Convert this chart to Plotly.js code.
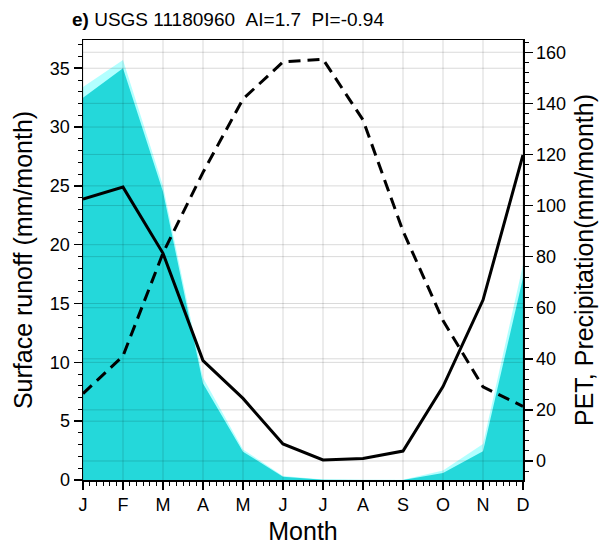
<!DOCTYPE html>
<html>
<head>
<meta charset="utf-8">
<script src="https://cdn.plot.ly/plotly-3.0.1.min.js"></script>
<style>html,body{margin:0;padding:0;background:#fff;}#chart{width:605px;height:545px;}</style>
</head>
<body>
<div id="chart"></div>
<script>
// ---- data ----
const months = [1,2,3,4,5,6,7,8,9,10,11,12];
const monthLabels = ['J','F','M','A','M','J','J','A','S','O','N','D'];
const runoffUpper = [33.4, 35.7, 25.0, 8.7, 2.6, 0.35, 0.05, 0, 0.02, 0.8, 3.05, 18.3];
const runoff      = [32.5, 35.0, 24.5, 8.2, 2.4, 0.28, 0.03, 0, 0, 0.6, 2.45, 17.2];
const precip      = [102.5, 107.2, 81.3, 39.3, 24.5, 6.7, 0.4, 1.0, 3.9, 29.1, 63.0, 119.8];
const pet         = [26.4, 41.1, 81.4, 113.0, 141.7, 156.2, 157.3, 133.5, 90.0, 55.0, 29.0, 21.4];
const leftTicks  = [0,5,10,15,20,25,30,35];
const rightTicks = [0,20,40,60,80,100,120,140,160];

const FONT = 'Liberation Sans, Arial, Helvetica, sans-serif';

const traces = [
  {x: months, y: runoffUpper, type:'scatter', mode:'lines', fill:'tozeroy',
   fillcolor:'rgba(0,255,255,0.3)', line:{width:0, color:'rgba(0,0,0,0)'}, yaxis:'y', hoverinfo:'skip'},
  {x: months, y: runoff, type:'scatter', mode:'lines', fill:'tozeroy',
   fillcolor:'rgba(0,206,209,0.8)', line:{width:0, color:'rgba(0,0,0,0)'}, yaxis:'y', hoverinfo:'skip'},
  {x: months, y: pet, type:'scatter', mode:'lines', yaxis:'y2',
   line:{color:'#000', width:3, dash:'12px,7px'}},
  {x: months, y: precip, type:'scatter', mode:'lines', yaxis:'y2',
   line:{color:'#000', width:3}}
];

const gridColor = 'rgba(0,0,0,0.15)';
const shapes = [];
months.forEach(m => shapes.push({type:'line', xref:'x', yref:'paper', x0:m, x1:m, y0:0, y1:1,
  layer:'above', line:{color:gridColor, width:1}}));
leftTicks.forEach(v => { if (v>0) shapes.push({type:'line', xref:'paper', yref:'y', x0:0, x1:1, y0:v, y1:v,
  layer:'above', line:{color:gridColor, width:1}}); });
rightTicks.forEach(v => shapes.push({type:'line', xref:'paper', yref:'y2', x0:0, x1:1, y0:v, y1:v,
  layer:'above', line:{color:gridColor, width:1}}));

const layout = {
  width:605, height:545,
  margin:{l:83, r:82, t:40, b:65},
  paper_bgcolor:'#fff', plot_bgcolor:'#fff',
  showlegend:false,
  font:{family:FONT, color:'#000', size:18},
  title:{text:'<b>e)</b> USGS 11180960\u00A0\u00A0AI=1.7\u00A0\u00A0PI=-0.94',
         font:{family:FONT, size:19, color:'#000'},
         xref:'container', x:72/605, xanchor:'left', yref:'container', y:1-19/545, yanchor:'middle'},
  xaxis:{range:[1,12], tickvals:months, ticktext:monthLabels, showgrid:false, zeroline:false,
         ticks:'outside', ticklen:8, tickwidth:1.5, tickcolor:'#000',
         showline:true, linecolor:'#000', linewidth:1.5, mirror:true,
         minor:{ticks:'outside', ticklen:4, tickwidth:1, tickcolor:'#000', dtick:1/6, tick0:1, showgrid:false},
         tickfont:{size:18},
         title:{text:'Month', font:{size:25}, standoff:8}},
  yaxis:{range:[0,37.4], tickvals:leftTicks, showgrid:false, zeroline:false,
         ticks:'outside', ticklen:8, tickwidth:1.5, tickcolor:'#000',
         showline:true, linecolor:'#000', linewidth:1.5,
         minor:{ticks:'outside', ticklen:4, tickwidth:1, tickcolor:'#000', dtick:1, tick0:0, showgrid:false},
         tickfont:{size:18},
         title:{text:'Surface runoff (mm/month)', font:{size:25}, standoff:10}},
  yaxis2:{range:[-7.44,164.8], tickvals:rightTicks, overlaying:'y', side:'right',
         showgrid:false, zeroline:false,
         ticks:'outside', ticklen:8, tickwidth:1.5, tickcolor:'#000',
         showline:true, linecolor:'#000', linewidth:1.5,
         minor:{ticks:'outside', ticklen:4, tickwidth:1, tickcolor:'#000', dtick:4, tick0:0, showgrid:false},
         tickfont:{size:18},
         title:{text:'PET, Precipitation(mm/month)', font:{size:25}, standoff:10}},
  shapes: shapes
};

Plotly.newPlot('chart', traces, layout, {staticPlot:true, displayModeBar:false});
</script>
</body>
</html>
